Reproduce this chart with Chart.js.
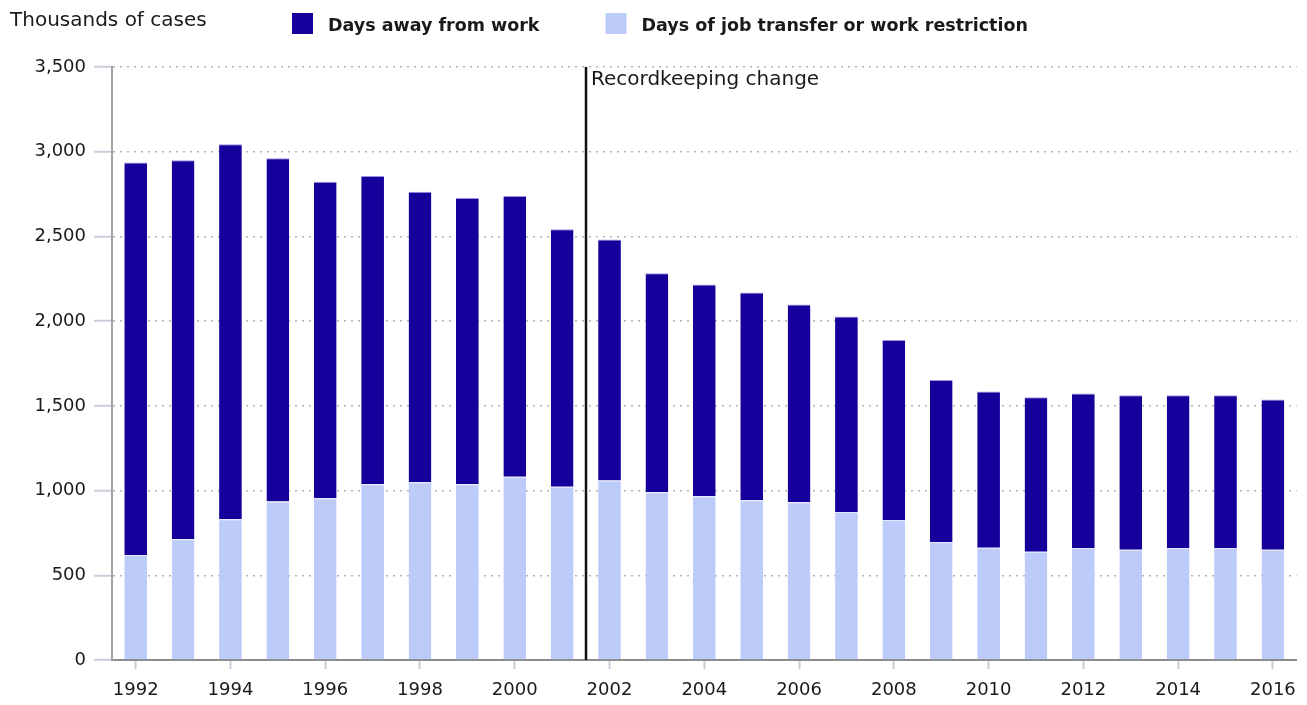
<!DOCTYPE html>
<html>
<head>
<meta charset="utf-8">
<script src="https://cdn.jsdelivr.net/npm/chart.js@4/dist/chart.umd.min.js"></script>
<style>
  html, body { margin: 0; padding: 0; background: #fff; }
  #wrap { width: 1307px; height: 705px; }
</style>
</head>
<body>
<div id="wrap"><canvas id="c" width="1307" height="705"></canvas></div>
<script>
// values, thousands of cases
const years = ['1992','1993','1994','1995','1996','1997','1998','1999','2000','2001','2002','2003','2004',
               '2005','2006','2007','2008','2009','2010','2011','2012','2013','2014','2015','2016'];
const daysAway = [2317, 2238, 2214, 2026, 1868, 1820, 1714, 1690, 1657, 1519, 1423, 1293, 1250,
                  1226, 1167, 1153, 1063, 956, 922, 912, 912, 912, 902, 902, 887];
const jobTransfer = [620, 712, 830, 935, 954, 1037, 1049, 1037, 1082, 1023, 1059, 990, 966,
                     943, 931, 874, 826, 697, 663, 639, 661, 651, 661, 661, 651];
const yTicks = [0, 500, 1000, 1500, 2000, 2500, 3000, 3500];
const changeAfter = '2001';
const changeLabel = 'Recordkeeping change';
const unitLabel = 'Thousands of cases';

const DARK = '#15009b';
const LIGHT = '#bdcbfb';
const FONT = '"DejaVu Sans", sans-serif';

// title, legend and recordkeeping marker
const extras = {
    id: 'extras',
    afterDatasetsDraw(chart) {
        const ctx = chart.ctx, x = chart.scales.x, a = chart.chartArea;
        const i = years.indexOf(changeAfter);
        const lx = Math.round((x.getPixelForValue(i) + x.getPixelForValue(i + 1)) / 2);
        ctx.save();
        ctx.strokeStyle = '#111';
        ctx.lineWidth = 2.5;
        ctx.beginPath();
        ctx.moveTo(lx, a.top);
        ctx.lineTo(lx, a.bottom);
        ctx.stroke();
        ctx.fillStyle = '#1a1a1a';
        ctx.font = '20px ' + FONT;
        ctx.textBaseline = 'middle';
        ctx.fillText(changeLabel, lx + 5, 80);
        ctx.restore();
    },
    afterDraw(chart) {
        const ctx = chart.ctx;
        ctx.save();
        ctx.textBaseline = 'middle';
        ctx.fillStyle = '#1a1a1a';
        ctx.font = '20px ' + FONT;
        ctx.fillText(unitLabel, 10, 21);
        ctx.font = 'bold 17.5px ' + FONT;
        let bx = 292;
        chart.data.datasets.slice().reverse().forEach(ds => {
            ctx.fillStyle = ds.backgroundColor;
            ctx.fillRect(bx, 13, 21, 21);
            ctx.fillStyle = '#1a1a1a';
            ctx.fillText(ds.label, bx + 36, 26);
            bx += 36 + ctx.measureText(ds.label).width + 66;
        });
        ctx.restore();
    }
};

new Chart(document.getElementById('c'), {
    type: 'bar',
    data: {
        labels: years,
        datasets: [
            {
                label: 'Days of job transfer or work restriction',
                data: jobTransfer,
                backgroundColor: LIGHT,
                borderColor: '#e4e9fd',
                borderWidth: { top: 1, left: 0, right: 0, bottom: 0 },
                borderSkipped: 'bottom'
            },
            {
                label: 'Days away from work',
                data: daysAway,
                backgroundColor: DARK,
                borderColor: '#9c94e0',
                borderWidth: { top: 1, left: 0, right: 0, bottom: 0 },
                borderSkipped: 'bottom'
            }
        ]
    },
    options: {
        responsive: false,
        animation: false,
        events: [],
        layout: { padding: { top: 67, right: 10, left: 0, bottom: 0 } },
        plugins: { legend: { display: false }, tooltip: { enabled: false } },
        datasets: { bar: { barPercentage: 0.48, categoryPercentage: 1 } },
        scales: {
            x: {
                stacked: true,
                afterFit(s) { s.height = 45; },
                border: { color: '#8c8c8c', width: 2 },
                grid: {
                    offset: false,
                    drawOnChartArea: false,
                    tickLength: 9,
                    tickWidth: 2,
                    tickColor: c => (c.index % 2 ? 'rgba(0,0,0,0)' : '#c9cedb')
                },
                ticks: {
                    autoSkip: false,
                    maxRotation: 0,
                    padding: 11,
                    color: '#1a1a1a',
                    font: { family: FONT, size: 18 },
                    callback: (v, i) => (i % 2 ? '' : years[i])
                }
            },
            y: {
                stacked: true,
                min: 0,
                max: 3500,
                afterFit(s) { s.width = 112; },
                afterBuildTicks(s) { s.ticks = yTicks.map(v => ({ value: v })); },
                border: { color: '#a3a3a3', width: 2, dash: [2, 5] },
                grid: {
                    color: '#b3b3b3',
                    lineWidth: 1.5,
                    tickLength: 18,
                    tickWidth: 2,
                    tickColor: '#c9cedb',
                    tickBorderDash: []
                },
                ticks: {
                    padding: 8,
                    color: '#1a1a1a',
                    font: { family: FONT, size: 18 },
                    callback: v => v.toLocaleString('en-US')
                }
            }
        }
    },
    plugins: [extras]
});
</script>
</body>
</html>
